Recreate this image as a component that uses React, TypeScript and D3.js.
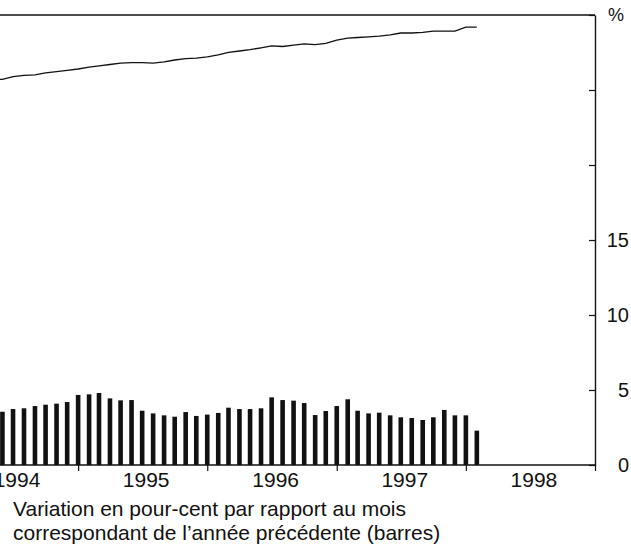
import { useEffect, useRef } from "react";
import { axisBottom, axisRight, line, scaleLinear, scaleTime, select } from "d3";

// monthly data, first month = June 1994
const startMonth = 5;
const barValues = [
  3.55, 3.73, 3.78, 3.93, 4.02, 4.09, 4.2,
  4.67, 4.71, 4.8, 4.44, 4.31, 4.33, 3.62, 3.44, 3.31, 3.22, 3.53, 3.27,
  3.36, 3.47, 3.82, 3.73, 3.73, 3.78, 4.51, 4.33, 4.29, 4.13, 3.33, 3.6,
  3.93, 4.38, 3.62, 3.44, 3.49, 3.31, 3.18, 3.13, 3.0, 3.18, 3.67, 3.31,
  3.31, 2.29,
];
// index level (line), first month = May 1994
const lineStart = 4;
const lineValues = [
  119.9, 120.0, 120.4, 120.6, 120.7, 121.0, 121.2, 121.4,
  121.6, 121.9, 122.1, 122.3, 122.5, 122.6, 122.6, 122.5, 122.7, 123.0, 123.2, 123.3,
  123.5, 123.8, 124.2, 124.4, 124.6, 124.9, 125.2, 125.1, 125.3, 125.5, 125.4, 125.6,
  126.1, 126.4, 126.5, 126.6, 126.7, 126.9, 127.2, 127.2, 127.3, 127.5, 127.5, 127.5,
  128.1, 128.1,
];
const years = [1994, 1995, 1996, 1997, 1998];
const rightTicks = [0, 5, 10, 15, 20, 25, 30];
const rightLabels = [0, 5, 10, 15];
const captionLines = [
  "Variation en pour-cent par rapport au mois",
  "correspondant de l\u2019année précédente (barres)",
];

const FONT = "'Liberation Sans', Arial, sans-serif";
const INK = "#111";

export default function App() {
  const svgRef = useRef<SVGSVGElement>(null);

  useEffect(() => {
    const svg = select(svgRef.current);
    svg.selectAll("*").remove();

    const top = 15;
    const bottom = 465;
    const right = 595;

    const x = scaleTime()
      .domain([new Date(1994, 0, 1), new Date(1999, 0, 1)])
      .range([-51, right]);
    const yR = scaleLinear().domain([0, 30]).range([bottom, top]);
    const yL = scaleLinear().domain([60, 130]).range([bottom, top]);

    // bars
    svg
      .append("g")
      .selectAll("rect")
      .data(barValues)
      .join("rect")
      .attr("x", (d, i) => x(new Date(1994, startMonth + i, 1)) - 2.3)
      .attr("width", 4.6)
      .attr("y", (d) => yR(d))
      .attr("height", (d) => yR(0) - yR(d))
      .attr("fill", INK);

    // index line
    const myLine = line<number>()
      .x((d, i) => x(new Date(1994, lineStart + i, 1)))
      .y((d) => yL(d));
    svg
      .append("path")
      .datum(lineValues)
      .attr("d", myLine)
      .attr("fill", "none")
      .attr("stroke", INK)
      .attr("stroke-width", 1.3);

    // frame top
    svg
      .append("line")
      .attr("x1", -51)
      .attr("x2", right)
      .attr("y1", top)
      .attr("y2", top)
      .attr("stroke", INK)
      .attr("stroke-width", 1.4);

    // bottom axis
    const xAxis = axisBottom(x)
      .tickValues(years.map((y) => new Date(y + 1, 0, 1)))
      .tickSize(6)
      .tickFormat(() => "");
    const gx = svg
      .append("g")
      .attr("transform", `translate(0,${bottom})`)
      .call(xAxis as any);
    gx.select(".domain").remove();
    gx.selectAll("line").attr("stroke", INK).attr("stroke-width", 1.2);
    svg
      .append("line")
      .attr("x1", -51)
      .attr("x2", right)
      .attr("y1", bottom)
      .attr("y2", bottom)
      .attr("stroke", INK)
      .attr("stroke-width", 1.4);

    svg
      .append("g")
      .selectAll("text")
      .data(years)
      .join("text")
      .attr("x", (d) => x(new Date(d, 6, 1)) + 4)
      .attr("y", 487)
      .attr("text-anchor", "middle")
      .attr("font-family", FONT)
      .attr("font-size", 21)
      .attr("fill", INK)
      .text((d) => d);

    // right axis
    const yAxis = axisRight(yR).tickValues(rightTicks).tickSize(0).tickFormat(() => "");
    const gy = svg
      .append("g")
      .attr("transform", `translate(${right},0)`)
      .call(yAxis as any);
    gy.select(".domain").attr("stroke", INK).attr("stroke-width", 1.4);
    gy.selectAll(".tick line").attr("x2", -6).attr("stroke", INK).attr("stroke-width", 1.2);

    svg
      .append("g")
      .selectAll("text")
      .data(rightLabels)
      .join("text")
      .attr("x", 629)
      .attr("y", (d) => yR(d))
      .attr("dy", "0.35em")
      .attr("text-anchor", "end")
      .attr("font-family", FONT)
      .attr("font-size", 20)
      .attr("fill", INK)
      .text((d) => d);

    svg
      .append("text")
      .attr("x", 608)
      .attr("y", 21)
      .attr("font-family", FONT)
      .attr("font-size", 18)
      .attr("fill", INK)
      .text("%");

    svg
      .append("g")
      .selectAll("text")
      .data(captionLines)
      .join("text")
      .attr("x", 13)
      .attr("y", (d, i) => 516 + i * 24)
      .attr("font-family", FONT)
      .attr("font-size", 21)
      .attr("fill", INK)
      .text((d) => d);
  }, []);

  return (
    <div style={{ position: "absolute", left: 0, top: 0 }}>
      <svg ref={svgRef} width={631} height={544} style={{ display: "block", background: "#fff" }} />
    </div>
  );
}
